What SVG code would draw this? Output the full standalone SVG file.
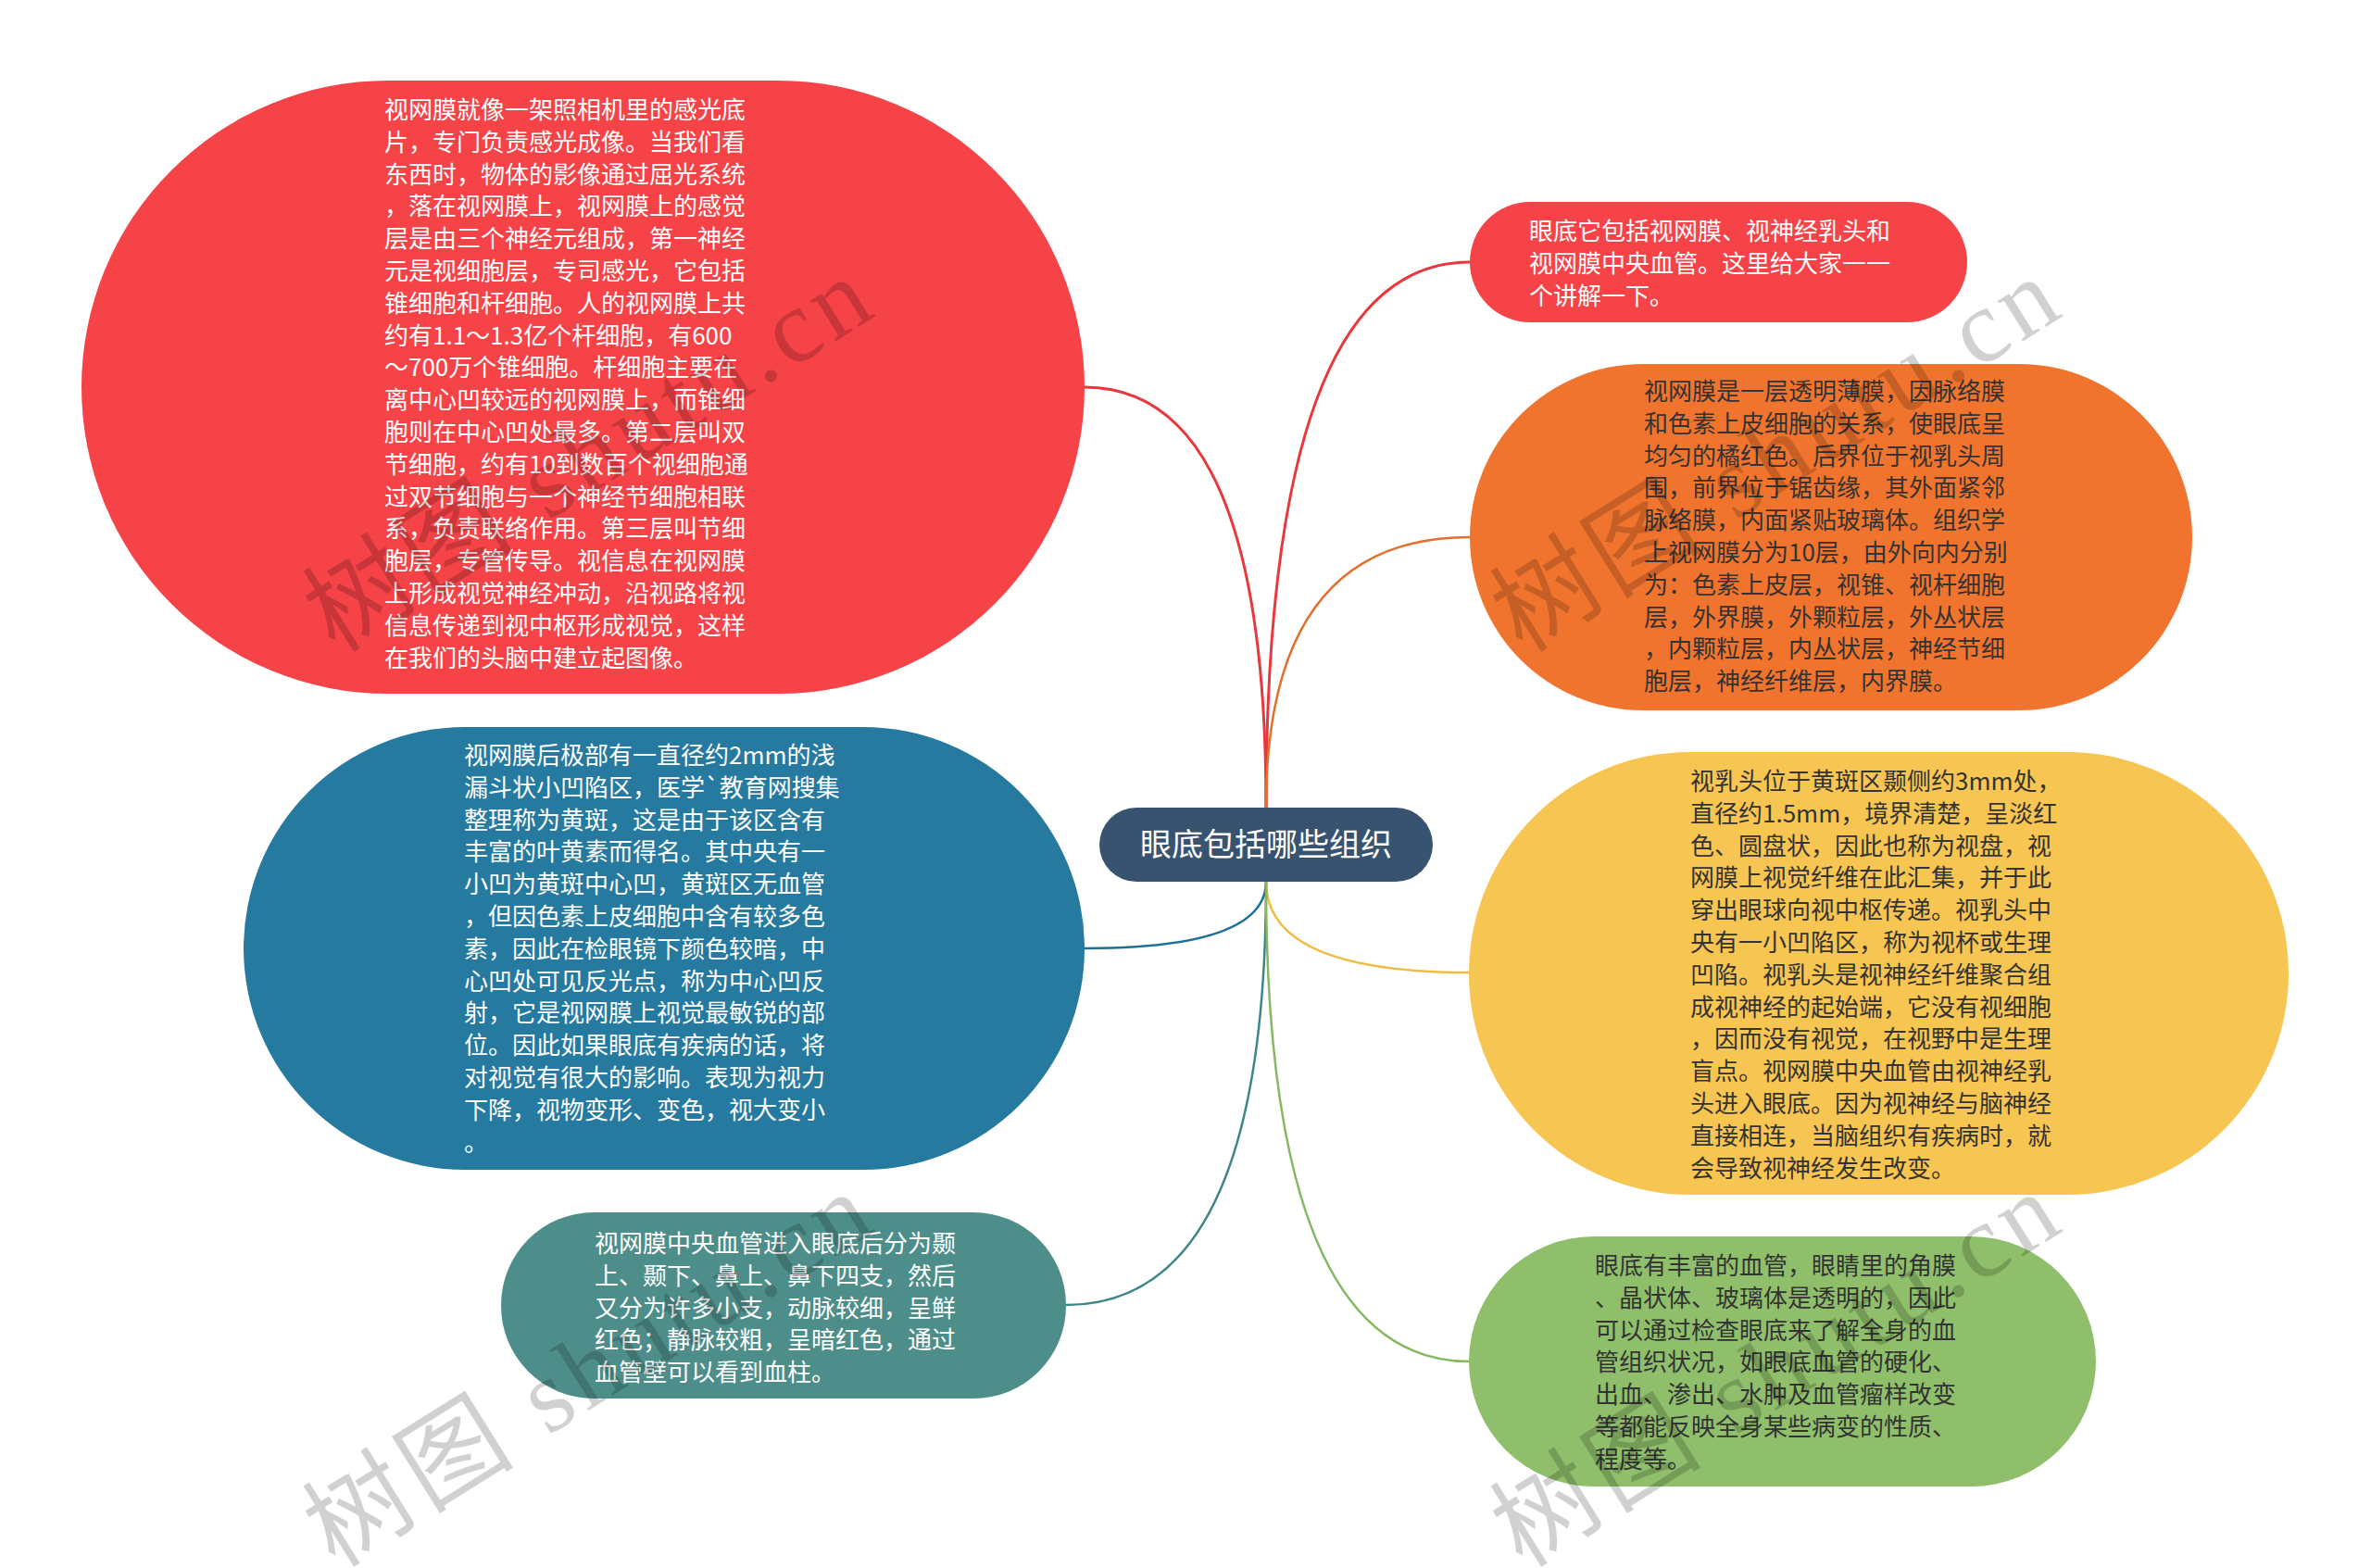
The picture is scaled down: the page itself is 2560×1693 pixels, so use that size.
<svg xmlns="http://www.w3.org/2000/svg" width="2560" height="1693" viewBox="0 0 2560 1693">
<style>
  .t { font-family: "Noto Sans CJK SC", "Noto Sans", sans-serif; font-size: 26px; }
  .w { fill: #ffffff; }
  .d { fill: #333333; }
  .c { fill: none; stroke-linecap: round; }
  .wm { font-family: "Liberation Serif", "Noto Sans CJK SC", serif; font-size: 112px; fill: #000000; fill-opacity: 0.18; }
</style>
<rect x="0" y="0" width="2560" height="1693" fill="#ffffff"/>

<g id="connectors">
  <path class="c" d="M1367,872 Q1367,418 1171,418" stroke="#E8383D" stroke-width="3"/>
  <path class="c" d="M1367,872 Q1367,283 1587,283" stroke="#E8383D" stroke-width="3"/>
  <path class="c" d="M1367,872 Q1367,580 1587,580" stroke="#E2702C" stroke-width="2.5"/>
  <path class="c" d="M1367,952 Q1367,1024 1171,1024" stroke="#1F6F98" stroke-width="2.5"/>
  <path class="c" d="M1367,952 Q1367,1050 1587,1050" stroke="#F0BC46" stroke-width="2.5"/>
  <path class="c" d="M1367,952 Q1367,1409 1151,1409" stroke="#3F8585" stroke-width="2.5"/>
  <path class="c" d="M1367,952 Q1367,1470 1587,1470" stroke="#86B862" stroke-width="2.5"/>
</g>

<g id="node-center">
  <rect x="1187" y="872" width="360" height="80" rx="40" ry="40" fill="#38536F"/>
  <text x="1367" y="924" text-anchor="middle" font-family="Noto Sans CJK SC, Noto Sans, sans-serif" font-size="34" fill="#ffffff">眼底包括哪些组织</text>
</g>

<g id="node-retina-film">
  <rect x="88" y="87" width="1083" height="662" rx="331" ry="331" fill="#F64347"/>
  <text class="t w" x="415">
    <tspan x="415" y="128">视网膜就像一架照相机里的感光底</tspan>
    <tspan x="415" y="162.8">片，专门负责感光成像。当我们看</tspan>
    <tspan x="415" y="197.6">东西时，物体的影像通过屈光系统</tspan>
    <tspan x="415" y="232.4">，落在视网膜上，视网膜上的感觉</tspan>
    <tspan x="415" y="267.2">层是由三个神经元组成，第一神经</tspan>
    <tspan x="415" y="302">元是视细胞层，专司感光，它包括</tspan>
    <tspan x="415" y="336.8">锥细胞和杆细胞。人的视网膜上共</tspan>
    <tspan x="415" y="371.6">约有1.1～1.3亿个杆细胞，有600</tspan>
    <tspan x="415" y="406.4">～700万个锥细胞。杆细胞主要在</tspan>
    <tspan x="415" y="441.2">离中心凹较远的视网膜上，而锥细</tspan>
    <tspan x="415" y="476">胞则在中心凹处最多。第二层叫双</tspan>
    <tspan x="415" y="510.8">节细胞，约有10到数百个视细胞通</tspan>
    <tspan x="415" y="545.6">过双节细胞与一个神经节细胞相联</tspan>
    <tspan x="415" y="580.4">系，负责联络作用。第三层叫节细</tspan>
    <tspan x="415" y="615.2">胞层，专管传导。视信息在视网膜</tspan>
    <tspan x="415" y="650">上形成视觉神经冲动，沿视路将视</tspan>
    <tspan x="415" y="684.8">信息传递到视中枢形成视觉，这样</tspan>
    <tspan x="415" y="719.6">在我们的头脑中建立起图像。</tspan>
  </text>
</g>

<g id="node-macula">
  <rect x="263" y="785" width="908" height="478" rx="239" ry="239" fill="#277A9F"/>
  <text class="t w" x="501">
    <tspan x="501" y="825">视网膜后极部有一直径约2mm的浅</tspan>
    <tspan x="501" y="859.8">漏斗状小凹陷区，医学`教育网搜集</tspan>
    <tspan x="501" y="894.6">整理称为黄斑，这是由于该区含有</tspan>
    <tspan x="501" y="929.4">丰富的叶黄素而得名。其中央有一</tspan>
    <tspan x="501" y="964.2">小凹为黄斑中心凹，黄斑区无血管</tspan>
    <tspan x="501" y="999">，但因色素上皮细胞中含有较多色</tspan>
    <tspan x="501" y="1033.8">素，因此在检眼镜下颜色较暗，中</tspan>
    <tspan x="501" y="1068.6">心凹处可见反光点，称为中心凹反</tspan>
    <tspan x="501" y="1103.4">射，它是视网膜上视觉最敏锐的部</tspan>
    <tspan x="501" y="1138.2">位。因此如果眼底有疾病的话，将</tspan>
    <tspan x="501" y="1173">对视觉有很大的影响。表现为视力</tspan>
    <tspan x="501" y="1207.8">下降，视物变形、变色，视大变小</tspan>
    <tspan x="501" y="1242.6">。</tspan>
  </text>
</g>

<g id="node-vessels">
  <rect x="541" y="1309" width="610" height="201" rx="100" ry="100" fill="#4E8E8A"/>
  <text class="t w" x="642">
    <tspan x="642" y="1352">视网膜中央血管进入眼底后分为颞</tspan>
    <tspan x="642" y="1386.8">上、颞下、鼻上、鼻下四支，然后</tspan>
    <tspan x="642" y="1421.6">又分为许多小支，动脉较细，呈鲜</tspan>
    <tspan x="642" y="1456.4">红色；静脉较粗，呈暗红色，通过</tspan>
    <tspan x="642" y="1491.2">血管壁可以看到血柱。</tspan>
  </text>
</g>

<g id="node-intro">
  <rect x="1587" y="218" width="537" height="130" rx="65" ry="65" fill="#F64347"/>
  <text class="t w" x="1651">
    <tspan x="1651" y="259">眼底它包括视网膜、视神经乳头和</tspan>
    <tspan x="1651" y="293.8">视网膜中央血管。这里给大家一一</tspan>
    <tspan x="1651" y="328.6">个讲解一下。</tspan>
  </text>
</g>

<g id="node-retina-layers">
  <rect x="1587" y="393" width="780" height="374" rx="187" ry="187" fill="#F1742E"/>
  <text class="t d" x="1775">
    <tspan x="1775" y="432">视网膜是一层透明薄膜，因脉络膜</tspan>
    <tspan x="1775" y="466.8">和色素上皮细胞的关系，使眼底呈</tspan>
    <tspan x="1775" y="501.6">均匀的橘红色。后界位于视乳头周</tspan>
    <tspan x="1775" y="536.4">围，前界位于锯齿缘，其外面紧邻</tspan>
    <tspan x="1775" y="571.2">脉络膜，内面紧贴玻璃体。组织学</tspan>
    <tspan x="1775" y="606">上视网膜分为10层，由外向内分别</tspan>
    <tspan x="1775" y="640.8">为：色素上皮层，视锥、视杆细胞</tspan>
    <tspan x="1775" y="675.6">层，外界膜，外颗粒层，外丛状层</tspan>
    <tspan x="1775" y="710.4">，内颗粒层，内丛状层，神经节细</tspan>
    <tspan x="1775" y="745.2">胞层，神经纤维层，内界膜。</tspan>
  </text>
</g>

<g id="node-optic-disc">
  <rect x="1586" y="812" width="885" height="478" rx="239" ry="239" fill="#F7C552"/>
  <text class="t d" x="1825">
    <tspan x="1825" y="853">视乳头位于黄斑区颞侧约3mm处，</tspan>
    <tspan x="1825" y="887.8">直径约1.5mm，境界清楚，呈淡红</tspan>
    <tspan x="1825" y="922.6">色、圆盘状，因此也称为视盘，视</tspan>
    <tspan x="1825" y="957.4">网膜上视觉纤维在此汇集，并于此</tspan>
    <tspan x="1825" y="992.2">穿出眼球向视中枢传递。视乳头中</tspan>
    <tspan x="1825" y="1027">央有一小凹陷区，称为视杯或生理</tspan>
    <tspan x="1825" y="1061.8">凹陷。视乳头是视神经纤维聚合组</tspan>
    <tspan x="1825" y="1096.6">成视神经的起始端，它没有视细胞</tspan>
    <tspan x="1825" y="1131.4">，因而没有视觉，在视野中是生理</tspan>
    <tspan x="1825" y="1166.2">盲点。视网膜中央血管由视神经乳</tspan>
    <tspan x="1825" y="1201">头进入眼底。因为视神经与脑神经</tspan>
    <tspan x="1825" y="1235.8">直接相连，当脑组织有疾病时，就</tspan>
    <tspan x="1825" y="1270.6">会导致视神经发生改变。</tspan>
  </text>
</g>

<g id="node-blood-vessels">
  <rect x="1586" y="1335" width="677" height="270" rx="135" ry="135" fill="#8FBF6B"/>
  <text class="t d" x="1722">
    <tspan x="1722" y="1376">眼底有丰富的血管，眼睛里的角膜</tspan>
    <tspan x="1722" y="1410.8">、晶状体、玻璃体是透明的，因此</tspan>
    <tspan x="1722" y="1445.6">可以通过检查眼底来了解全身的血</tspan>
    <tspan x="1722" y="1480.4">管组织状况，如眼底血管的硬化、</tspan>
    <tspan x="1722" y="1515.2">出血、渗出、水肿及血管瘤样改变</tspan>
    <tspan x="1722" y="1550">等都能反映全身某些病变的性质、</tspan>
    <tspan x="1722" y="1584.8">程度等。</tspan>
  </text>
</g>

<g id="watermarks">
  <text class="wm" transform="translate(362,706) rotate(-32)" textLength="690" lengthAdjust="spacing">树图 shutu.cn</text>
  <text class="wm" transform="translate(362,1694) rotate(-32)" textLength="690" lengthAdjust="spacing">树图 shutu.cn</text>
  <text class="wm" transform="translate(1644,706) rotate(-32)" textLength="690" lengthAdjust="spacing">树图 shutu.cn</text>
  <text class="wm" transform="translate(1644,1694) rotate(-32)" textLength="690" lengthAdjust="spacing">树图 shutu.cn</text>
</g>
</svg>
